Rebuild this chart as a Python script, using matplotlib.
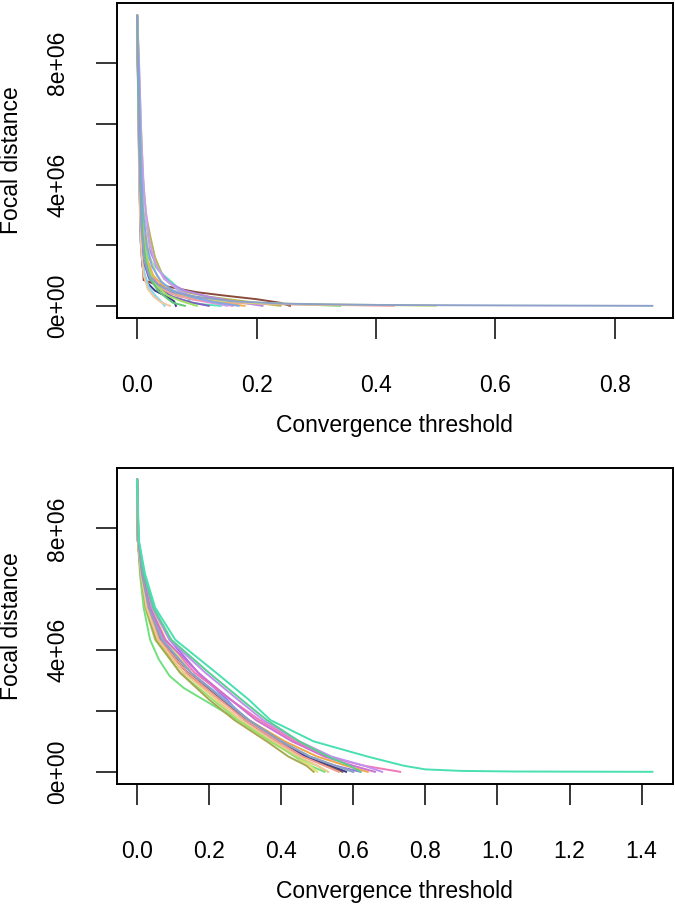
from matplotlib import pyplot as plt

#Top panel: threshold values and focal distances (millions) per run
top_thr = [
    [0, 0.003, 0.006, 0.01, 0.015, 0.022, 0.03, 0.045, 0.07, 0.12, 0.18, 0.24],
    [0, 0.003, 0.006, 0.009, 0.011, 0.03, 0.06, 0.1, 0.15, 0.2, 0.24, 0.256],
    [0, 0.003, 0.006, 0.01, 0.018, 0.03, 0.045, 0.06, 0.075, 0.085, 0.09, 0.11, 0.14],
    [0, 0.002, 0.005, 0.01, 0.02, 0.035, 0.055, 0.08, 0.12, 0.17, 0.21],
    [0, 0.002, 0.004, 0.008, 0.015, 0.025, 0.04, 0.06, 0.09, 0.13, 0.16],
    [0, 0.002, 0.005, 0.009, 0.016, 0.028, 0.045, 0.07, 0.11, 0.17, 0.26, 0.34],
    [0, 0.002, 0.004, 0.008, 0.014, 0.025, 0.04, 0.065, 0.1, 0.16, 0.24, 0.33, 0.43],
    [0, 0.003, 0.006, 0.011, 0.02, 0.033, 0.05, 0.08, 0.13, 0.2, 0.3, 0.4, 0.5],
    [0, 0.002, 0.004, 0.006, 0.009, 0.015, 0.03, 0.05, 0.062, 0.065],
    [0, 0.002, 0.004, 0.007, 0.012, 0.02, 0.03, 0.04, 0.046],
    [0, 0.002, 0.005, 0.009, 0.016, 0.027, 0.045, 0.07, 0.1, 0.14, 0.18],
    [0, 0.002, 0.004, 0.006, 0.008, 0.012, 0.02, 0.035, 0.06, 0.09, 0.12],
    [0, 0.003, 0.007, 0.012, 0.02, 0.03, 0.045, 0.07, 0.1, 0.15],
    [0, 0.002, 0.005, 0.01, 0.018, 0.03, 0.05, 0.075, 0.1],
    [0, 0.003, 0.006, 0.01, 0.016, 0.025, 0.04, 0.06, 0.09, 0.13, 0.17],
    [0, 0.002, 0.004, 0.007, 0.011, 0.018, 0.028, 0.04, 0.055],
    [0, 0.002, 0.005, 0.009, 0.014, 0.022, 0.035, 0.05, 0.06, 0.08],
    [0, 0.002, 0.004, 0.007, 0.012, 0.02, 0.035, 0.06, 0.1, 0.16, 0.25, 0.4, 0.6, 0.863],
]
top_dist = [
    [9.56, 8.0, 6.2, 4.2, 3.0, 2.3, 1.6, 0.9, 0.5, 0.3, 0.15, 0.0],
    [9.56, 6.5, 3.6, 1.6, 0.85, 0.72, 0.6, 0.45, 0.33, 0.22, 0.1, 0.0],
    [9.56, 6.0, 3.8, 2.3, 1.6, 1.3, 1.0, 0.75, 0.45, 0.25, 0.1, 0.05, 0.0],
    [9.56, 7.5, 5.2, 3.2, 1.9, 1.2, 0.75, 0.5, 0.3, 0.12, 0.0],
    [9.56, 7.0, 4.5, 2.6, 1.6, 1.0, 0.6, 0.4, 0.22, 0.08, 0.0],
    [9.56, 6.8, 3.9, 2.2, 1.3, 0.8, 0.5, 0.32, 0.2, 0.12, 0.06, 0.0],
    [9.56, 7.2, 4.6, 2.4, 1.4, 0.85, 0.55, 0.35, 0.2, 0.1, 0.05, 0.03, 0.0],
    [9.56, 7.8, 5.5, 3.0, 1.7, 1.0, 0.6, 0.35, 0.18, 0.09, 0.05, 0.03, 0.0],
    [9.56, 6.8, 4.0, 2.1, 1.3, 0.8, 0.5, 0.3, 0.15, 0.0],
    [9.56, 6.5, 3.8, 2.0, 1.1, 0.6, 0.35, 0.15, 0.0],
    [9.56, 7.2, 4.7, 2.7, 1.6, 1.0, 0.62, 0.4, 0.25, 0.1, 0.0],
    [9.56, 6.5, 4.0, 2.5, 1.9, 1.4, 0.9, 0.55, 0.3, 0.12, 0.0],
    [9.56, 8.2, 5.5, 3.6, 2.2, 1.4, 0.9, 0.5, 0.25, 0.0],
    [9.56, 7.0, 4.2, 2.3, 1.3, 0.7, 0.35, 0.15, 0.0],
    [9.56, 7.6, 5.0, 3.1, 2.0, 1.3, 0.8, 0.5, 0.3, 0.12, 0.0],
    [9.56, 6.2, 3.5, 1.8, 1.0, 0.55, 0.3, 0.12, 0.0],
    [9.56, 6.9, 4.3, 2.4, 1.5, 0.9, 0.5, 0.25, 0.1, 0.0],
    [9.56, 7.3, 4.8, 2.6, 1.5, 1.0, 0.7, 0.45, 0.3, 0.15, 0.07, 0.03, 0.015, 0.0],
]
top_colors = ["#b8b84c", "#8b4a3a", "#50e8b8", "#b38ae8", "#f08ac8", "#7ada6a",
              "#f0a0a0", "#cfe07a", "#3a3a8a", "#7fd8f0", "#f0b050", "#8060c0",
              "#c8a0f0", "#a0e060", "#80a8e8", "#f0c8a0", "#60c878", "#8da0c8"]

#Bottom panel: most runs read at the same distance levels
bot_levels = [9.6, 7.6, 6.5, 5.4, 4.34, 3.25, 2.37, 1.7, 1.0, 0.5, 0.2, 0.0]
bot_thr = [
    [0, 0.004, 0.02, 0.045, 0.09, 0.17, 0.25, 0.3, 0.38, 0.46, 0.55, 0.62],
    [0, 0.003, 0.015, 0.035, 0.075, 0.16, 0.26, 0.34, 0.44, 0.53, 0.63, 0.73],
    [0, 0.002, 0.011, 0.025, 0.055, 0.13, 0.23, 0.31, 0.41, 0.5, 0.58, 0.64],
    [0, 0.002, 0.012, 0.028, 0.06, 0.14, 0.24, 0.31, 0.4, 0.47, 0.53, 0.57],
    [0, 0.003, 0.016, 0.04, 0.08, 0.15, 0.22, 0.28, 0.37, 0.44, 0.48, 0.5],
    [0, 0.002, 0.012, 0.03, 0.065, 0.14, 0.235, 0.3, 0.39, 0.47, 0.54, 0.58],
    [0, 0.003, 0.014, 0.033, 0.07, 0.15, 0.245, 0.31, 0.4, 0.48, 0.55, 0.6],
    [0, 0.002, 0.01, 0.022, 0.05, 0.12, 0.21, 0.28, 0.37, 0.44, 0.5, 0.53],
    [0, 0.004, 0.018, 0.042, 0.09, 0.19, 0.28, 0.35, 0.45, 0.54, 0.63, 0.68],
    [0, 0.002, 0.012, 0.029, 0.062, 0.14, 0.23, 0.3, 0.39, 0.46, 0.52, 0.56],
    [0, 0.002, 0.01, 0.024, 0.052, 0.12, 0.2, 0.27, 0.36, 0.42, 0.47, 0.49],
    [0, 0.003, 0.015, 0.036, 0.078, 0.17, 0.26, 0.33, 0.43, 0.52, 0.6, 0.66],
    [0, 0.004, 0.019, 0.045, 0.095, 0.2, 0.29, 0.36, 0.45, 0.53, 0.59, 0.62],
    [0, 0.002, 0.011, 0.026, 0.058, 0.13, 0.22, 0.29, 0.38, 0.45, 0.5, 0.53],
    [0, 0.003, 0.013, 0.032, 0.068, 0.15, 0.24, 0.31, 0.4, 0.48, 0.55, 0.6],
]
bot_colors = ["#a070e8", "#f07ab8", "#f0a848", "#8b5a40", "#e8e070",
              "#3c3c90", "#80b0f0", "#98e070", "#c090f0", "#f09a90", "#a8a850",
              "#d070d0", "#58d090", "#f0c890", "#8fa0c0"]
#fastest run (lower left edge of the bundle)
low_thr = [0, 0.002, 0.008, 0.018, 0.036, 0.06, 0.09, 0.13, 0.18, 0.23, 0.28, 0.34, 0.4, 0.45, 0.49, 0.52]
low_dist = [9.6, 7.6, 6.5, 5.4, 4.34, 3.7, 3.15, 2.75, 2.4, 2.05, 1.7, 1.25, 0.8, 0.4, 0.15, 0.0]
low_color = "#70e080"
#the one run that goes on to 1.43
long_thr = [0, 0.005, 0.022, 0.05, 0.106, 0.22, 0.31, 0.37, 0.49, 0.64, 0.74, 0.8, 0.9, 1.05, 1.43]
long_dist = [9.6, 7.6, 6.5, 5.4, 4.34, 3.25, 2.37, 1.7, 1.0, 0.5, 0.2, 0.08, 0.03, 0.01, 0.0]
long_color = "#48e0b0"

y_ticks = [0, 2e6, 4e6, 6e6, 8e6]
y_labels = ["0e+00", "", "4e+06", "", "8e+06"]
top_xticks = [0.0, 0.2, 0.4, 0.6, 0.8]
bot_xticks = [0.0, 0.2, 0.4, 0.6, 0.8, 1.0, 1.2, 1.4]

plt.rcParams["font.family"] = ["Liberation Sans", "DejaVu Sans"]
plt.rcParams["font.size"] = 16.5

fig = plt.figure(figsize=(6.75, 9.06), dpi=100)
W, H = 675.0, 906.0


def panel(box, xs, ys, cols, xticks, xmax):
    left, top, right, bottom = box
    ax = fig.add_axes([left / W, 1 - bottom / H, (right - left) / W, (bottom - top) / H])
    for x, y, c in zip(xs, ys, cols):
        ax.plot(x, [v * 1e6 for v in y], color=c, lw=1.4)
    #R style 4% padding
    ax.set_xlim(-0.04 * xmax, xmax * 1.04)
    ax.set_ylim(-0.04 * 9.6e6, 9.6e6 * 1.04)
    ax.set_xticks(xticks)
    ax.set_xticklabels(["%.1f" % t for t in xticks])
    ax.set_yticks(y_ticks)
    ax.set_yticklabels(y_labels, rotation=90, va="center")
    ax.tick_params(axis="both", length=15, width=1.1, direction="out", labelsize=16.5)
    ax.tick_params(axis="x", pad=26)
    ax.tick_params(axis="y", pad=19)
    for s in ax.spines.values():
        s.set_linewidth(1.4)
    ax.set_xlabel("Convergence threshold", fontsize=16.5, labelpad=12)
    ax.set_ylabel("Focal distance", fontsize=16.5, labelpad=17)
    return ax


panel((116.5, 3, 673, 317.5), top_thr, top_dist, top_colors, top_xticks, 0.863)

bot_x = [low_thr] + bot_thr + [long_thr]
bot_y = [low_dist] + [bot_levels] * len(bot_thr) + [long_dist]
panel((116.5, 468, 673, 783.5), bot_x, bot_y, [low_color] + bot_colors + [long_color],
      bot_xticks, 1.43)

fig.savefig("out.png", dpi=100)
